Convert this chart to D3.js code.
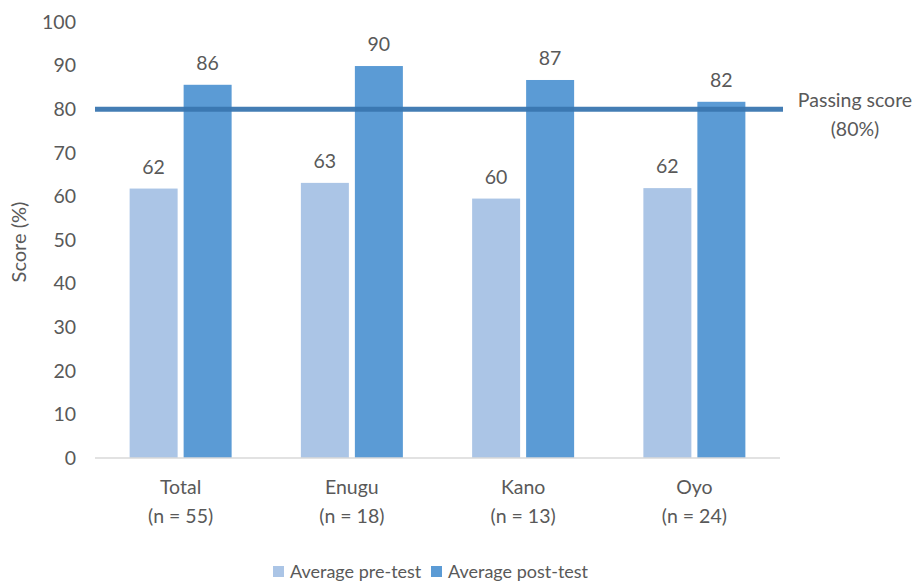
<!DOCTYPE html>
<html>
<head>
<script src="https://d3js.org/d3.v7.min.js"></script>
<style>
  body { margin: 0; background: #fff; }
  text { font-family: Lato, "Open Sans", sans-serif; fill: #595959; }
</style>
</head>
<body>
<div id="chart"></div>
<script>
const categories = ["Total", "Enugu", "Kano", "Oyo"];
const sampleSizes = ["(n = 55)", "(n = 18)", "(n = 13)", "(n = 24)"];
const preTest = [61.8, 63.1, 59.5, 61.9];
const postTest = [85.6, 89.9, 86.7, 81.7];
const preLabels = ["62", "63", "60", "62"];
const postLabels = ["86", "90", "87", "82"];
const passingScore = 80;
const yTicks = [0, 10, 20, 30, 40, 50, 60, 70, 80, 90, 100];
const seriesNames = ["Average pre-test", "Average post-test"];
const colors = ["#abc5e6", "#5b9bd5"];

const width = 919, height = 581;
const svg = d3.select("#chart").append("svg")
  .attr("width", width).attr("height", height);

const x = d3.scaleBand().domain(categories).range([95, 780]);
const y = d3.scaleLinear().domain([0, 100]).range([458, 22]);

// y tick labels
svg.append("g").selectAll("text").data(yTicks).enter().append("text")
  .attr("x", 76).attr("y", d => y(d)).attr("dy", "0.35em")
  .attr("text-anchor", "end").style("font-size", "19.5px")
  .text(d => d);

svg.append("text")
  .attr("transform", "translate(26,242) rotate(-90)")
  .attr("text-anchor", "middle").style("font-size", "20px")
  .text("Score (%)");

const barW = 48, gap = 6;
const groups = categories.map((c, i) => ({ c, i }));

const g = svg.append("g");
[preTest, postTest].forEach((vals, s) => {
  const labs = s === 0 ? preLabels : postLabels;
  const off = s === 0 ? -gap / 2 - barW : gap / 2;
  g.selectAll(".bar" + s).data(groups).enter().append("rect")
    .attr("x", d => x(d.c) + x.bandwidth() / 2 + off)
    .attr("y", d => y(vals[d.i]))
    .attr("width", barW)
    .attr("height", d => y(0) - y(vals[d.i]))
    .attr("fill", colors[s]);
  g.selectAll(".lab" + s).data(groups).enter().append("text")
    .attr("x", d => x(d.c) + x.bandwidth() / 2 + off + barW / 2)
    .attr("y", d => y(vals[d.i]) - 15)
    .attr("text-anchor", "middle").style("font-size", "19.5px")
    .text(d => labs[d.i]);
});

// x axis line
svg.append("line")
  .attr("x1", 95).attr("x2", 780).attr("y1", y(0)).attr("y2", y(0))
  .attr("stroke", "#d9d9d9").attr("stroke-width", 1.5);

// category labels
const cat = svg.append("g").selectAll("text").data(groups).enter().append("text")
  .attr("x", d => x(d.c) + x.bandwidth() / 2)
  .attr("text-anchor", "middle").style("font-size", "19.5px");
cat.append("tspan").attr("y", 494).attr("x", d => x(d.c) + x.bandwidth() / 2).text(d => d.c);
cat.append("tspan").attr("y", 523).attr("x", d => x(d.c) + x.bandwidth() / 2).text(d => sampleSizes[d.i]);

// passing score line
svg.append("line")
  .attr("x1", 95).attr("x2", 783).attr("y1", y(passingScore)).attr("y2", y(passingScore))
  .attr("stroke", "#3a76b0").attr("stroke-width", 5).attr("stroke-opacity", 0.95);

svg.append("text").attr("x", 855).attr("y", 107)
  .attr("text-anchor", "middle").style("font-size", "19.5px").text("Passing score");
svg.append("text").attr("x", 855).attr("y", 136)
  .attr("text-anchor", "middle").style("font-size", "19.5px").text("(" + passingScore + "%)");

// legend
const legendX = [273, 431];
const leg = svg.append("g").selectAll("g").data(seriesNames).enter().append("g")
  .attr("transform", (d, i) => `translate(${legendX[i]},572)`);
leg.append("rect").attr("x", 0).attr("y", -6).attr("width", 11).attr("height", 11)
  .attr("fill", (d, i) => colors[i]);
leg.append("text").attr("x", 17).attr("y", 0).attr("dy", "0.35em")
  .style("font-size", "18px").text(d => d);
</script>
</body>
</html>
